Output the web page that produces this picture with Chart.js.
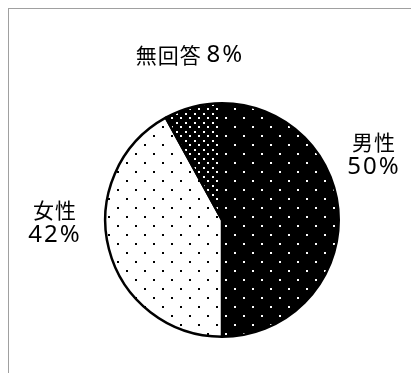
<!DOCTYPE html>
<html>
<head>
<meta charset="utf-8">
<script src="https://cdn.jsdelivr.net/npm/chart.js@4.4.0/dist/chart.umd.min.js"></script>
<style>
  html, body { margin: 0; padding: 0; background: #fff; }
  #wrap { position: relative; width: 411px; height: 373px; }
  #frame { position: absolute; left: 8px; top: 8px; right: 0; bottom: 0;
           border-top: 1px solid #a0a0a0; border-left: 1px solid #a0a0a0; }
  canvas { position: absolute; left: 0; top: 0; }
</style>
</head>
<body>
<div id="wrap">
  <div id="frame"></div>
  <canvas id="pieChart" width="411" height="373"></canvas>
</div>
<script>
const categories = ["男性", "女性", "無回答"];
const shares = [50, 42, 8];

// dotted fills like the original print-style chart
function dots(bg, fg, step) {
  const c = document.createElement("canvas");
  c.width = 18;
  c.height = 18;
  const g = c.getContext("2d");
  g.fillStyle = bg;
  g.fillRect(0, 0, 18, 18);
  g.fillStyle = fg;
  for (let r = 0; r * step < 18; r++) {
    const y = Math.round(r * step);
    const off = r % 2 ? step : 0;
    for (let x = off; x < 18; x += step * 2) {
      g.fillRect(Math.round(x), y, 2, 2);
    }
  }
  return g.createPattern(c, "repeat");
}

const fills = [
  dots("#000", "#fff", 9),
  dots("#fff", "#000", 9),
  dots("#000", "#fff", 4.5),
];

// where each label sits, relative to pie centre
const labelPos = [
  { dx: 152, dy: -66, lines: 2 },
  { dx: -167, dy: 2, lines: 2 },
  { dx: -32, dy: -165, lines: 1 },
];

const jpFont = '21px "Noto Sans CJK JP", sans-serif';
const numFont = '24px "Noto Sans", sans-serif';

// draw a run of [text, font] pieces centred on x
function drawRuns(ctx, runs, x, y) {
  let total = 0;
  const widths = runs.map(([t, f, sp]) => {
    ctx.font = f;
    ctx.letterSpacing = sp + "px";
    const w = ctx.measureText(t).width;
    total += w;
    return w;
  });
  let cx = x - total / 2;
  runs.forEach(([t, f, sp], i) => {
    ctx.font = f;
    ctx.letterSpacing = sp + "px";
    ctx.fillText(t, cx, y);
    cx += widths[i];
  });
}

const labelPlugin = {
  id: "pieLabels",
  afterDraw(chart) {
    const ctx = chart.ctx;
    const arc = chart.getDatasetMeta(0).data[0];
    ctx.save();
    ctx.fillStyle = "#000";
    ctx.textAlign = "left";
    ctx.textBaseline = "middle";
    categories.forEach((name, i) => {
      const p = labelPos[i];
      const x = arc.x + p.dx;
      const y = arc.y + p.dy;
      const pct = [shares[i] + "%", numFont, 2];
      if (p.lines === 2) {
        drawRuns(ctx, [[name, jpFont, 1]], x, y - 12);
        drawRuns(ctx, [pct], x, y + 13);
      } else {
        drawRuns(ctx, [[name, jpFont, 1], [" ", jpFont, 0], pct], x, y);
      }
    });
    ctx.restore();
  },
};

new Chart(document.getElementById("pieChart"), {
  type: "pie",
  data: {
    labels: categories,
    datasets: [
      {
        data: shares,
        backgroundColor: fills,
        borderColor: "#000",
        borderWidth: 2.5,
      },
    ],
  },
  options: {
    responsive: false,
    animation: false,
    layout: { padding: { top: 102, bottom: 35, left: 104, right: 71 } },
    plugins: {
      legend: { display: false },
      tooltip: { enabled: false },
    },
  },
  plugins: [labelPlugin],
});
</script>
</body>
</html>
